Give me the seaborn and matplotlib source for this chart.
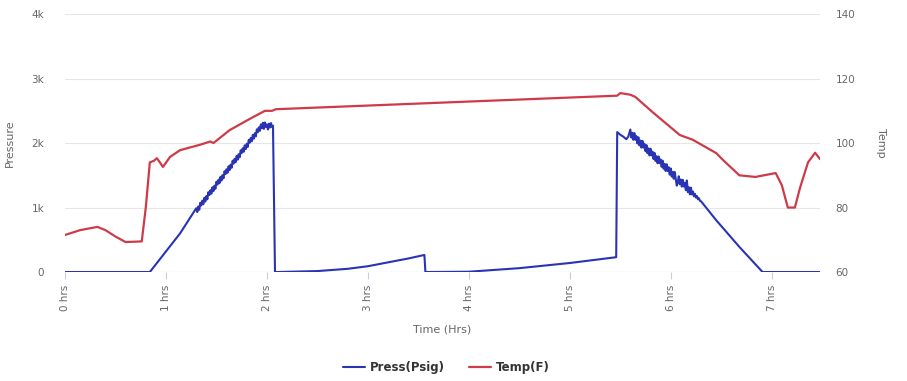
import pandas as pd
import matplotlib.pyplot as plt
import seaborn as sns

# Pressure trace (hours, psig), in three pieces
# idle, then first pressure ramp (noisy toward the top), then the drop
ramp1_hrs = [0.0, 0.84, 1.0, 1.14,
             1.30, 1.31, 1.32, 1.33, 1.34, 1.35, 1.36, 1.37, 1.38, 1.39,
             1.40, 1.41, 1.42, 1.43, 1.44, 1.45, 1.46, 1.47, 1.48, 1.49,
             1.50, 1.51, 1.52, 1.53, 1.54, 1.55, 1.56, 1.57, 1.58, 1.59,
             1.60, 1.61, 1.62, 1.63, 1.64, 1.65, 1.66, 1.67, 1.68, 1.69,
             1.70, 1.71, 1.72, 1.73, 1.74, 1.75, 1.76, 1.77, 1.78, 1.79,
             1.80, 1.81, 1.82, 1.83, 1.84, 1.85, 1.86, 1.87, 1.88, 1.89,
             1.90, 1.91, 1.92, 1.93, 1.94, 1.95, 1.96, 1.97, 1.98, 1.99,
             2.00, 2.01, 2.02, 2.03, 2.04, 2.05, 2.06,
             2.08]
ramp1_psig = [0, 0, 320, 600,
              990, 930, 1016, 966, 1076, 1032, 1107, 1052, 1152, 1093,
              1178, 1128, 1239, 1194, 1269, 1215, 1315, 1255, 1340, 1291,
              1401, 1356, 1432, 1377, 1477, 1418, 1503, 1453, 1563, 1519,
              1594, 1539, 1640, 1580, 1665, 1616, 1726, 1681, 1756, 1702,
              1802, 1742, 1828, 1778, 1888, 1844, 1919, 1864, 1964, 1905,
              1990, 1940, 2051, 2006, 2081, 2027, 2127, 2067, 2152, 2103,
              2213, 2168, 2244, 2189, 2290, 2230, 2315, 2220, 2320, 2250,
              2290, 2210, 2300, 2240, 2310, 2250, 2270,
              0]
# slow creep between the two ramps
creep_hrs = [2.1, 2.5, 2.8, 3.0, 3.2, 3.4, 3.56, 3.57, 4.0, 4.5, 5.0, 5.46]
creep_psig = [0, 15, 50, 90, 150, 210, 265, 0, 5, 60, 140, 230]
# second ramp, bleeding down
ramp2_hrs = [5.47, 5.50, 5.53, 5.56, 5.58,
             5.60, 5.61, 5.62, 5.63, 5.64, 5.65, 5.66, 5.67, 5.68, 5.69,
             5.70, 5.71, 5.72, 5.73, 5.74, 5.75, 5.76, 5.77, 5.78, 5.79,
             5.80, 5.81, 5.82, 5.83, 5.84, 5.85, 5.86, 5.87, 5.88, 5.89,
             5.90, 5.91, 5.92, 5.93, 5.94, 5.95, 5.96, 5.97, 5.98, 5.99,
             6.00, 6.01, 6.02, 6.03, 6.04, 6.05, 6.06, 6.07, 6.08, 6.09,
             6.10, 6.11, 6.12, 6.13, 6.14, 6.15, 6.16, 6.17, 6.18, 6.19,
             6.20, 6.21, 6.22, 6.23, 6.24, 6.25, 6.26, 6.27, 6.28, 6.29,
             6.30,
             6.45, 6.68, 6.91, 7.48]
ramp2_psig = [2170, 2130, 2100, 2060, 2100,
              2210, 2085, 2160, 2050, 2155, 2050, 2109, 1994, 2089, 1964,
              2039, 1929, 2034, 1929, 1989, 1874, 1968, 1843, 1918, 1808,
              1913, 1808, 1868, 1753, 1848, 1723, 1797, 1687, 1792, 1687,
              1747, 1632, 1727, 1602, 1677, 1567, 1671, 1566, 1626, 1511,
              1606, 1481, 1556, 1446, 1551, 1446, 1340, 1390, 1485, 1360,
              1435, 1325, 1430, 1325, 1385, 1270, 1420, 1239, 1314, 1204,
              1309, 1204, 1249, 1174, 1214, 1154, 1178, 1128, 1143, 1105,
              1098,
              805, 390, 0, 0]

# Temperature trace (hours, F)
temp_hrs = [0.0, 0.15, 0.32, 0.4, 0.5, 0.6, 0.76, 0.8, 0.84, 0.88,
            0.91, 0.94, 0.97, 1.04, 1.14, 1.34, 1.44, 1.47, 1.63, 1.83,
            1.98, 2.05, 2.09, 5.47, 5.5, 5.6, 5.65, 5.82, 6.09, 6.22,
            6.45, 6.52, 6.68, 6.84, 7.04, 7.1, 7.16, 7.23, 7.28, 7.36,
            7.43, 7.48]
temp_f = [71.5, 73, 74, 73, 71, 69.3, 69.5, 80, 94, 94.5,
          95.3, 94, 92.6, 95.7, 97.8, 99.5, 100.5, 100, 104, 107.5,
          110, 110, 110.5, 114.7, 115.5, 115, 114.3, 109.6, 102.5, 101,
          96.9, 94.7, 90, 89.5, 90.7, 87, 80, 80, 86, 94,
          97, 95]

hour_ticks = [0, 1, 2, 3, 4, 5, 6, 7]
press_ticks = [0, 1000, 2000, 3000, 4000]
press_labels = ["0", "1k", "2k", "3k", "4k"]
temp_ticks = [60, 80, 100, 120, 140]

df_press = pd.DataFrame({"hrs": ramp1_hrs + creep_hrs + ramp2_hrs,
                         "psig": ramp1_psig + creep_psig + ramp2_psig})
df_temp = pd.DataFrame({"hrs": temp_hrs, "temp": temp_f})

sns.set_style("white")
plt.rcParams["font.family"] = ["DejaVu Sans"]

blue = "#2834b4"
red = "#cf3a49"
grey = "#666666"

fig = plt.figure(figsize=(9.07, 3.81), dpi=100)
ax = fig.add_axes([0.0717, 0.286, 0.8325, 0.677])
ax2 = ax.twinx()

sns.lineplot(data=df_press, x="hrs", y="psig", ax=ax, color=blue, lw=1.5,
             sort=False, estimator=None, label="Press(Psig)", legend=False)
sns.lineplot(data=df_temp, x="hrs", y="temp", ax=ax2, color=red, lw=1.6,
             sort=False, estimator=None, label="Temp(F)", legend=False)

ax.set_xlim(0, 7.48)
ax.set_ylim(0, 4000)
ax2.set_ylim(60, 140)

ax.set_yticks(press_ticks)
ax.set_yticklabels(press_labels)
ax2.set_yticks(temp_ticks)
ax.set_xticks(hour_ticks)
ax.set_xticklabels([f"{h} hrs" for h in hour_ticks], rotation=90)

ax.grid(axis="y", color="#e6e6e6", lw=0.8)
ax.set_axisbelow(True)
for a in (ax, ax2):
    for s in ("top", "left", "right", "bottom"):
        a.spines[s].set_visible(False)
ax.axhline(0, color="#c0d0e0", lw=0.8, zorder=0)

ax.tick_params(axis="x", colors=grey, labelsize=7.5, length=5, width=0.8,
               bottom=True, direction="out", pad=4)
ax.tick_params(axis="x", color="#c0d0e0")
ax.tick_params(axis="y", colors=grey, labelsize=7.5, length=0, pad=15)
ax2.tick_params(axis="y", colors=grey, labelsize=7.5, length=0, pad=11)

ax.set_xlabel("Time (Hrs)", color=grey, fontsize=8)
ax.xaxis.set_label_coords(0.5, -0.205)
ax.set_ylabel("Pressure", color=grey, fontsize=8)
ax.yaxis.set_label_coords(-0.066, 0.5)
ax2.set_ylabel("Temp", color=grey, fontsize=8, rotation=270, va="center")
ax2.yaxis.set_label_coords(1.08, 0.5)

h1, l1 = ax.get_legend_handles_labels()
h2, l2 = ax2.get_legend_handles_labels()
leg = fig.legend(h1 + h2, l1 + l2, loc="center", bbox_to_anchor=(0.492, 0.035), ncol=2,
                 frameon=False, handlelength=1.9, columnspacing=2.0, handletextpad=0.4,
                 prop={"weight": "bold", "size": 8.5})
for t in leg.get_texts():
    t.set_color("#333333")

fig.savefig("out.png", dpi=100)
